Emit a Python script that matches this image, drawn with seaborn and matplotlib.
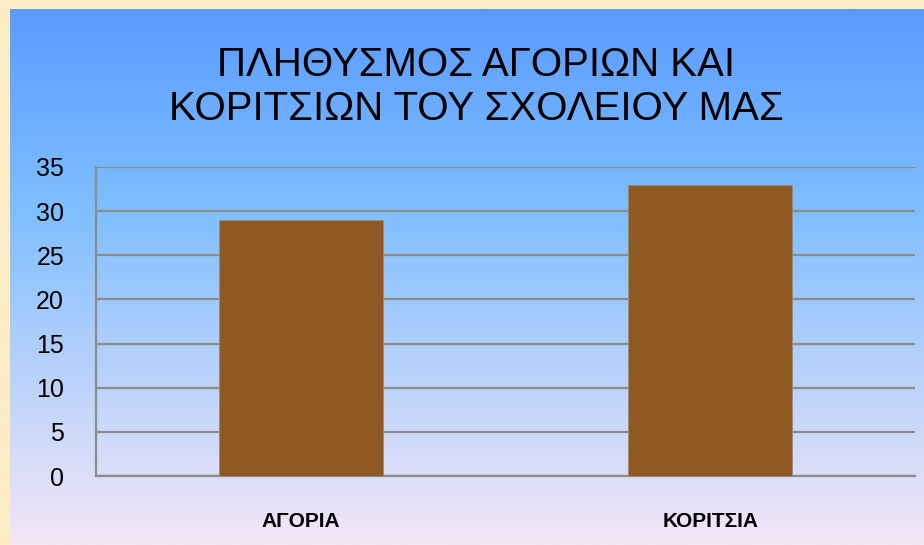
import numpy as np
import pandas as pd
import seaborn as sns
import matplotlib.pyplot as plt
from matplotlib.colors import LinearSegmentedColormap

# data
categories = ["ΑΓΟΡΙΑ", "ΚΟΡΙΤΣΙΑ"]
counts = [29, 33]
title = "ΠΛΗΘΥΣΜΟΣ ΑΓΟΡΙΩΝ ΚΑΙ\nΚΟΡΙΤΣΙΩΝ ΤΟΥ ΣΧΟΛΕΙΟΥ ΜΑΣ"

df = pd.DataFrame({"category": categories, "count": counts})

sns.set_theme(style="white")
plt.rcParams["font.family"] = ["Liberation Sans", "DejaVu Sans"]

fig = plt.figure(figsize=(9.24, 5.45), dpi=100)
fig.patch.set_facecolor("#fbecc6")

# slide background gradient
bg = fig.add_axes([10 / 924, 0, 914 / 924, 536 / 545], zorder=0)
grad = LinearSegmentedColormap.from_list(
    "slide", [(0, "#5a9bff"), (0.38, "#80bfff"), (1, "#f4e6f6")]
)
bg.imshow(np.linspace(0, 1, 256).reshape(-1, 1), aspect="auto", cmap=grad)
bg.axis("off")

ax = fig.add_axes([96 / 924, 1 - 476 / 545, 819 / 924, 309 / 545], zorder=1)
ax.patch.set_alpha(0)

sns.barplot(data=df, x="category", y="count", color="#8f5a21",
            saturation=1, width=0.4, ax=ax, zorder=3,
            edgecolor="#9a8a7a", linewidth=0.6)

ax.set_ylim(0, 35)
ax.set_yticks(range(0, 36, 5))
ax.yaxis.grid(True, color="#8c8c8c", linewidth=1.6, zorder=0)
ax.set_axisbelow(True)
for s in ["top", "right"]:
    ax.spines[s].set_visible(False)
for s in ["left", "bottom"]:
    ax.spines[s].set_color("#8c8c8c")
    ax.spines[s].set_linewidth(1.6)
ax.set_xlabel("")
ax.set_ylabel("")
ax.tick_params(axis="y", length=0, pad=23, labelsize=18, labelcolor="black")
ax.tick_params(axis="x", length=0, pad=26)
for lab in ax.get_xticklabels():
    lab.set_fontweight("bold")
    lab.set_fontsize(15)
    lab.set_color("black")

fig.text(476 / 924, 1 - 87 / 545, title, ha="center", va="center",
         fontsize=29, linespacing=1.2, color="black")

fig.savefig("out.png", dpi=100, facecolor=fig.get_facecolor())
